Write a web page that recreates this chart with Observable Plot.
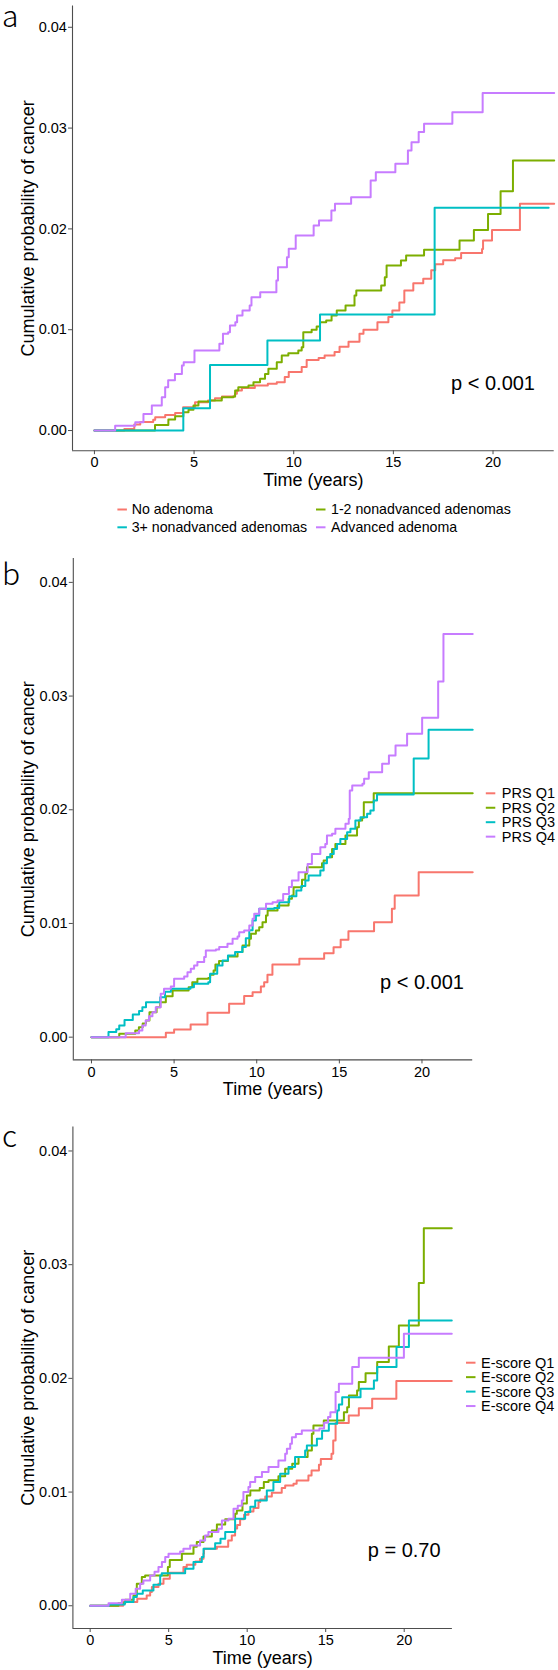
<!DOCTYPE html>
<html><head><meta charset="utf-8">
<script src="https://cdn.jsdelivr.net/npm/d3@7"></script>
<script src="https://cdn.jsdelivr.net/npm/@observablehq/plot@0.6"></script>
<style>
body{margin:0;background:#fff;}
#root{position:relative;width:558px;height:1670px;overflow:hidden;background:#fff;}
#root > svg{position:absolute;left:0;}
</style></head><body><div id="root"></div>
<script>
// ---- DATA: step points [time (years), cumulative probability (per 1000)] ----
// Panel a
const aNames = ["No adenoma", "1-2 nonadvanced adenomas", "3+ nonadvanced adenomas", "Advanced adenoma"];
const aNoAdenoma = [[0,0],[1.5,0.15],[2.0,0.6],[2.3,0.85],[2.95,1.06],[3.05,1.32],[3.55,1.55],[4.05,1.75],[4.45,2.3],[5.05,2.8],[5.7,2.98],[6.05,3.2],[6.4,3.37],[7.05,3.64],[7.15,3.97],[7.4,4.23],[8.05,4.46],[8.7,4.63],[9.15,4.8],[9.55,5.3],[9.75,5.8],[10.4,6.3],[10.65,7.0],[11.25,7.2],[11.55,7.45],[12.05,7.8],[12.3,8.3],[12.75,8.8],[13.3,9.6],[13.5,10.0],[14.2,10.75],[14.75,11.25],[14.95,11.9],[15.3,12.7],[15.55,13.9],[16.0,14.6],[16.5,15.05],[16.9,15.9],[17.1,16.5],[17.5,16.9],[18.1,17.1],[18.4,17.6],[19.45,18.0],[19.5,18.85],[19.95,19.9],[21.35,22.5],[23.07,22.5]];
const aNonadv12 = [[0,0],[3.04,0.56],[3.71,1.09],[4.05,1.42],[4.46,1.82],[4.72,2.05],[4.97,2.48],[5.22,2.88],[5.8,2.98],[6.39,3.31],[6.97,3.37],[7.06,3.97],[7.22,4.3],[7.73,4.46],[7.98,4.79],[8.31,5.13],[8.56,5.62],[8.73,6.12],[9.15,6.78],[9.4,7.44],[9.73,7.67],[10.23,7.94],[10.4,8.27],[10.48,9.76],[10.9,9.99],[11.15,10.32],[11.32,10.75],[11.63,10.91],[11.9,11.41],[12.16,11.9],[12.6,12.4],[13.05,13.39],[13.14,13.89],[14.39,14.38],[14.57,15.21],[14.66,16.37],[15.38,16.86],[15.64,17.36],[16.54,17.92],[18.32,18.85],[19.04,19.9],[19.75,21.49],[20.38,23.74],[21.0,26.79],[23.07,26.79]];
const aNonadv3 = [[0,0],[4.46,2.2],[5.8,6.5],[8.68,8.93],[11.32,11.5],[17.07,22.1],[22.79,22.1]];
const aAdvanced = [[0,0],[1.04,0.48],[2.05,0.83],[2.46,1.65],[2.88,2.48],[3.38,3.31],[3.55,4.3],[3.7,5.0],[4.04,5.62],[4.39,6.45],[4.48,6.78],[5.02,7.94],[6.27,8.6],[6.45,9.59],[6.71,9.76],[6.8,10.42],[7.07,10.75],[7.16,11.41],[7.43,11.9],[7.79,12.4],[7.88,13.23],[8.32,13.72],[9.13,14.88],[9.21,16.2],[9.66,17.2],[9.75,18.02],[10.1,19.35],[11.0,20.34],[11.27,20.83],[11.89,21.83],[12.07,22.49],[12.88,23.15],[13.86,24.8],[14.12,25.63],[15.1,26.46],[15.73,27.78],[15.91,28.6],[16.27,29.6],[16.54,30.42],[17.96,31.58],[19.48,33.47],[23.07,33.47]];

// Panel b
const bNames = ["PRS Q1", "PRS Q2", "PRS Q3", "PRS Q4"];
const bQ1 = [[0,0],[4.5,0.38],[5.0,0.67],[6.0,1.11],[7.02,2.14],[8.33,2.93],[9.24,3.61],[9.75,3.96],[10.25,4.46],[10.45,4.84],[10.65,5.5],[10.95,6.39],[12.58,6.89],[14.08,7.39],[14.65,7.9],[15.08,8.56],[15.55,9.32],[17.1,10.11],[18.18,11.29],[18.35,12.46],[19.8,14.51],[23.07,14.51]];
const bQ2 = [[0,0],[1.68,0.29],[2.65,0.59],[2.87,0.88],[3.1,1.2],[3.3,1.47],[3.51,2.2],[3.94,2.64],[4.16,3.08],[4.5,3.6],[4.91,4.1],[5.88,4.4],[6.1,4.84],[6.41,5.13],[7.07,5.2],[7.18,5.5],[7.39,5.86],[7.5,6.4],[7.72,6.7],[8.26,7.09],[8.84,7.5],[9.14,8.06],[9.55,8.65],[9.65,9.09],[9.95,9.38],[10.15,9.67],[10.35,10.11],[10.56,10.7],[10.66,11.14],[11.26,11.58],[11.93,12.17],[12.13,12.46],[12.23,13.19],[12.74,13.84],[12.94,14.37],[13.04,14.95],[13.95,15.3],[14.05,15.54],[14.25,15.83],[14.56,16.56],[14.76,17.0],[15.37,17.74],[16.07,18.47],[16.18,19.06],[16.38,19.29],[16.48,20.67],[17.08,21.46],[23.07,21.46]];
const bQ3 = [[0,0],[1.03,0.45],[1.5,0.7],[1.68,1.03],[2.0,1.5],[2.5,2.0],[2.88,2.3],[3.08,2.64],[3.3,3.08],[4.16,3.52],[4.45,4.0],[4.81,4.25],[5.99,4.4],[6.2,4.69],[7.07,4.84],[7.18,5.57],[7.61,6.3],[7.93,6.74],[8.26,7.18],[8.69,7.48],[9.13,7.92],[9.34,8.7],[9.55,9.4],[9.75,10.26],[9.95,10.7],[10.15,11.29],[11.06,11.37],[11.36,11.87],[11.97,12.4],[12.4,12.9],[12.7,13.3],[12.94,13.78],[13.14,14.22],[13.85,14.66],[14.05,15.3],[14.25,15.83],[14.45,16.12],[14.66,16.56],[14.86,17.0],[15.06,17.44],[15.47,18.03],[15.67,18.32],[15.97,19.06],[16.28,19.35],[16.68,19.64],[16.88,19.94],[17.08,20.82],[17.28,21.34],[19.5,24.5],[20.4,27.03],[23.07,27.03]];
const bQ4 = [[0,0],[2.07,0.35],[2.88,0.59],[3.08,1.03],[3.28,1.47],[3.48,1.85],[3.69,2.2],[3.89,2.64],[4.19,3.81],[4.39,4.25],[4.8,4.46],[5.0,5.13],[5.61,5.34],[5.81,5.72],[6.01,6.01],[6.21,6.3],[6.41,6.6],[6.82,7.04],[6.92,7.62],[7.53,7.71],[7.73,7.92],[8.23,8.21],[8.54,8.65],[8.84,8.85],[8.94,9.23],[9.24,9.38],[9.55,9.82],[9.75,10.41],[9.85,10.85],[10.15,11.29],[10.56,11.73],[10.96,11.87],[11.26,12.02],[11.6,12.6],[11.95,13.2],[12.13,13.78],[12.53,14.51],[13.08,15.24],[13.34,16.12],[13.85,16.71],[14.15,17.0],[14.25,17.74],[14.56,17.88],[14.76,18.32],[15.37,18.76],[15.57,19.2],[15.63,21.69],[15.78,22.13],[16.4,22.28],[16.5,22.72],[16.78,23.31],[17.59,24.04],[18.0,24.77],[18.4,25.65],[19.1,26.68],[20.01,28.1],[20.98,31.28],[21.3,35.47],[23.07,35.47]];

// Panel c
const cNames = ["E-score Q1", "E-score Q2", "E-score Q3", "E-score Q4"];
const cQ1 = [[0,0],[2.1,0.32],[3.0,0.62],[3.6,0.9],[3.82,1.2],[3.93,1.64],[4.35,1.93],[4.67,2.37],[5.07,2.9],[5.94,3.4],[6.15,3.61],[6.7,3.9],[7.0,4.13],[7.22,4.57],[7.25,5.01],[8.07,5.2],[8.79,5.75],[9.02,6.19],[9.23,6.8],[9.36,7.1],[9.55,7.6],[9.8,8.0],[10.08,8.3],[10.4,8.6],[10.72,9.12],[10.83,9.35],[11.15,9.62],[11.57,9.95],[12.2,10.35],[12.42,10.58],[12.95,10.73],[13.15,11.02],[13.9,11.46],[14.1,11.9],[14.57,12.4],[14.69,12.9],[15.37,13.37],[15.48,14.54],[15.63,16.07],[16.47,16.74],[17.11,17.38],[17.96,18.21],[19.5,19.76],[23.03,19.76]];
const cQ2 = [[0,0],[1.8,0.23],[2.23,0.53],[2.76,0.91],[2.97,1.93],[3.29,2.52],[3.5,2.67],[4.95,3.4],[5.07,4.02],[5.84,4.57],[6.58,5.2],[6.79,5.6],[7.22,6.1],[7.75,6.63],[8.07,7.15],[8.6,7.6],[9.23,8.09],[9.34,8.38],[9.7,9.0],[9.98,9.7],[10.2,10.14],[10.8,10.35],[11.06,10.88],[11.36,11.05],[11.99,11.4],[12.42,12.05],[12.87,12.49],[13.27,13.08],[13.85,13.66],[14.12,15.13],[14.22,15.86],[14.88,16.3],[16.16,17.03],[16.37,17.47],[16.48,18.5],[17.0,18.94],[17.11,19.67],[17.54,20.46],[18.28,21.43],[19.02,22.81],[19.66,24.66],[20.93,28.38],[21.25,33.2],[23.03,33.2]];
const cQ3 = [[0,0],[1.2,0.1],[2.2,0.32],[2.76,0.76],[2.97,1.06],[3.35,1.35],[4.03,1.85],[4.46,2.67],[4.56,2.85],[6.05,3.25],[6.58,3.84],[7.11,4.28],[7.22,5.01],[7.96,5.5],[8.3,5.89],[8.6,6.48],[9.23,7.65],[9.87,8.24],[10.2,8.7],[10.51,9.26],[11.25,10.14],[11.67,10.88],[12.1,11.61],[12.63,12.2],[13.05,13.08],[13.69,13.66],[13.8,14.1],[14.44,14.69],[14.77,15.4],[15.2,16.0],[15.73,17.18],[15.84,17.71],[16.05,18.35],[17.22,19.09],[18.07,19.82],[18.28,20.99],[19.51,22.75],[20.3,25.1],[23.03,25.1]];
const cQ4 = [[0,0],[1.17,0.23],[2.02,0.53],[2.55,1.06],[2.9,1.5],[3.18,1.93],[3.39,2.23],[3.82,2.67],[4.1,3.0],[4.35,3.4],[4.57,3.84],[4.78,4.28],[4.99,4.57],[5.73,4.78],[5.94,5.01],[6.37,5.31],[7.0,5.75],[7.32,6.19],[7.53,6.48],[8.17,6.77],[8.39,7.5],[8.81,7.65],[9.13,8.53],[9.4,8.8],[9.66,9.26],[9.76,10.0],[10.08,10.44],[10.19,10.88],[10.51,11.32],[10.94,11.76],[11.36,12.2],[11.99,12.78],[12.42,13.37],[12.53,13.81],[12.74,14.25],[12.85,14.83],[13.1,15.1],[13.48,15.42],[14.6,15.6],[14.9,16.1],[15.15,16.6],[15.3,17.03],[15.63,18.8],[15.84,19.52],[16.69,20.99],[17.11,21.81],[19.98,23.92],[23.03,23.92]];

const pValues = ["p < 0.001", "p < 0.001", "p = 0.70"];
const xTicks = [0, 5, 10, 15, 20];
const yTicks = [0, 0.01, 0.02, 0.03, 0.04];
const colors = ["#F8766D", "#7CAE00", "#00BFC4", "#C77CFF"];
const xDomain = [-1.1, 23.07];
const yDomain = [-0.002, 0.0421];
const axisColor = "#4d4d4d";
const FONT = "'Liberation Sans', Arial, sans-serif";

function buildTable(series, names) {
  return series.flatMap((s, i) => s.map(([t, p]) => ({t, p: p / 1000, group: names[i]})));
}

function makePanel({series, names, height, mt, mb, ml, mr, pText, pY}) {
  const data = buildTable(series, names);
  return Plot.plot({
    width: 558, height,
    marginTop: mt, marginBottom: mb, marginLeft: ml, marginRight: mr,
    x: {domain: xDomain},
    y: {domain: yDomain},
    color: {domain: names, range: colors},
    style: {fontFamily: FONT, fontSize: "14.5px", color: "#000", background: "transparent", overflow: "visible"},
    marks: [
      Plot.ruleX([xDomain[0]], {y1: yDomain[0], y2: yDomain[1], stroke: axisColor, strokeWidth: 1.1}),
      Plot.ruleY([yDomain[0]], {x1: xDomain[0], x2: xDomain[1], stroke: axisColor, strokeWidth: 1.1}),
      Plot.axisX({ticks: xTicks, tickSize: 4, tickPadding: 2.5, fontSize: 14.5, label: null, stroke: axisColor, fill: "#000", tickFormat: d => String(d)}),
      Plot.axisY({ticks: yTicks, tickSize: 4, tickPadding: 1.6, fontSize: 14.5, label: null, stroke: axisColor, fill: "#000", tickFormat: d3.format(".2f")}),
      Plot.line(data, {x: "t", y: "p", z: "group", stroke: "group", curve: "step-after", strokeWidth: 2}),
      Plot.text([{x: 20, y: pY, label: pText}], {x: "x", y: "y", text: "label", fontSize: 20, textAnchor: "middle", lineAnchor: "middle", fill: "#000"}),
      Plot.text(["Time (years)"], {text: d => d, frameAnchor: "bottom", textAnchor: "middle", dy: 29.5, fontSize: 18, lineAnchor: "middle", fill: "#000"}),
      Plot.text(["Cumulative probability of cancer"], {text: d => d, frameAnchor: "left", textAnchor: "middle", rotate: -90, dx: 28 - ml, fontSize: 18, lineAnchor: "middle", fill: "#000"})
    ]
  });
}

const root = document.getElementById("root");

const panels = [
  {top: 0, series: [aNoAdenoma, aNonadv12, aNonadv3, aAdvanced], names: aNames, height: 496, mt: 5.6, mb: 45.8, ml: 72, mr: 4.3, pText: pValues[0], pY: 0.0047},
  {top: 540, series: [bQ1, bQ2, bQ3, bQ4], names: bNames, height: 565, mt: 18, mb: 45.6, ml: 72.8, mr: 85.8, pText: pValues[1], pY: 0.00484},
  {top: 1110, series: [cQ1, cQ2, cQ3, cQ4], names: cNames, height: 560, mt: 16.6, mb: 42, ml: 72.4, mr: 106.1, pText: pValues[2], pY: 0.00486}
];

for (const p of panels) {
  const svg = makePanel(p);
  svg.style.position = "absolute";
  svg.style.top = p.top + "px";
  svg.style.left = "0px";
  root.appendChild(svg);
}

// ---- Overlay: panel letters and legends ----
const overlay = d3.create("svg").attr("width", 558).attr("height", 1670)
  .style("position", "absolute").style("top", "0px").style("left", "0px")
  .attr("font-family", FONT);

const letters = [{t: "a", x: 2, y: 26.7}, {t: "b", x: 2, y: 585}, {t: "c", x: 2, y: 1146.7}];
overlay.selectAll("text.letter").data(letters).join("text")
  .attr("x", d => d.x).attr("y", d => d.y)
  .attr("font-family", "'Noto Sans CJK SC', 'Noto Sans', sans-serif")
  .attr("font-weight", 300).attr("font-size", 30).attr("fill", "#000")
  .text(d => d.t);

const legendItems = [
  {name: aNames[0], c: colors[0], kx: 117.4, tx: 131.7, y: 509.5, fs: 14.2},
  {name: aNames[1], c: colors[1], kx: 316, tx: 331, y: 509.5, fs: 14.2},
  {name: aNames[2], c: colors[2], kx: 117.4, tx: 131.7, y: 527.3, fs: 14.2},
  {name: aNames[3], c: colors[3], kx: 316, tx: 331, y: 527.3, fs: 14.2},
  ...bNames.map((n, i) => ({name: n, c: colors[i], kx: 485.8, tx: 501.8, y: 793.3 + i * 14.45, fs: 14.5})),
  ...cNames.map((n, i) => ({name: n, c: colors[i], kx: 466, tx: 481, y: 1362.7 + i * 14.45, fs: 14.5}))
];
const lg = overlay.selectAll("g.leg").data(legendItems).join("g");
lg.append("line").attr("x1", d => d.kx).attr("x2", d => d.kx + 9.5).attr("y1", d => d.y).attr("y2", d => d.y)
  .attr("stroke", d => d.c).attr("stroke-width", 2);
lg.append("text").attr("x", d => d.tx).attr("y", d => d.y).attr("dy", "0.35em")
  .attr("font-size", d => d.fs).attr("fill", "#000").text(d => d.name);

root.appendChild(overlay.node());
</script></body></html>
